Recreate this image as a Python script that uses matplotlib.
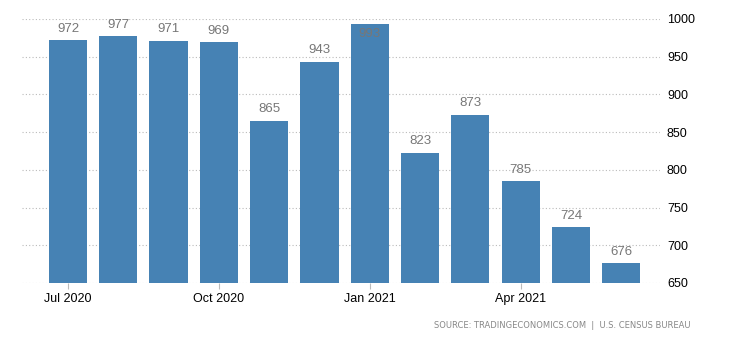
import matplotlib.pyplot as plt

# Monthly values, Jul 2020 - Jun 2021 (thousands of units)
months = ['Jul 2020', 'Aug 2020', 'Sep 2020', 'Oct 2020', 'Nov 2020', 'Dec 2020',
          'Jan 2021', 'Feb 2021', 'Mar 2021', 'Apr 2021', 'May 2021', 'Jun 2021']
values = [972, 977, 971, 969, 865, 943, 993, 823, 873, 785, 724, 676]
tick_labels = ['Jul 2020', 'Oct 2020', 'Jan 2021', 'Apr 2021']
y_ticks = [650, 700, 750, 800, 850, 900, 950, 1000]

bar_color = '#4682b4'
label_color = '#777777'

plt.rcParams['font.family'] = ['Liberation Sans', 'DejaVu Sans']

fig = plt.figure(figsize=(7.29, 3.5), dpi=100)
ax = fig.add_axes([22 / 729, 1 - 283 / 350, (660 - 22) / 729, (283 - 19) / 350])

x = list(range(len(values)))
ax.bar(x, values, width=0.76, color=bar_color, zorder=2)

ax.set_ylim(650, 1000)
ax.set_xlim(-0.915, 11.77)

# value labels above each bar; if too close to the top, tuck it inside
for xi, v in zip(x, values):
    if v > 985:
        ax.annotate(str(v), (xi, v), xytext=(0, -3), textcoords='offset points',
                    ha='center', va='top', fontsize=9.5, color=label_color)
    else:
        ax.annotate(str(v), (xi, v), xytext=(0, 4), textcoords='offset points',
                    ha='center', va='bottom', fontsize=9.5, color=label_color)

ax.yaxis.tick_right()
ax.set_yticks(y_ticks)
ax.tick_params(axis='y', length=0, pad=5, labelsize=9, labelcolor='black')
ax.grid(axis='y', linestyle=(0, (1, 2)), color='#bbbbbb', linewidth=0.8, zorder=0)

tick_pos = [months.index(t) for t in tick_labels]
ax.set_xticks(tick_pos)
ax.set_xticklabels(tick_labels)
ax.tick_params(axis='x', length=4, color='#bbbbbb', pad=3, labelsize=9)

for s in ax.spines.values():
    s.set_visible(False)

fig.text(690 / 729, 1 - 325 / 350, 'SOURCE: TRADINGECONOMICS.COM  |  U.S. CENSUS BUREAU',
         ha='right', va='center', fontsize=6, color='#888888', family='DejaVu Sans')

fig.savefig('out.png', dpi=100)
